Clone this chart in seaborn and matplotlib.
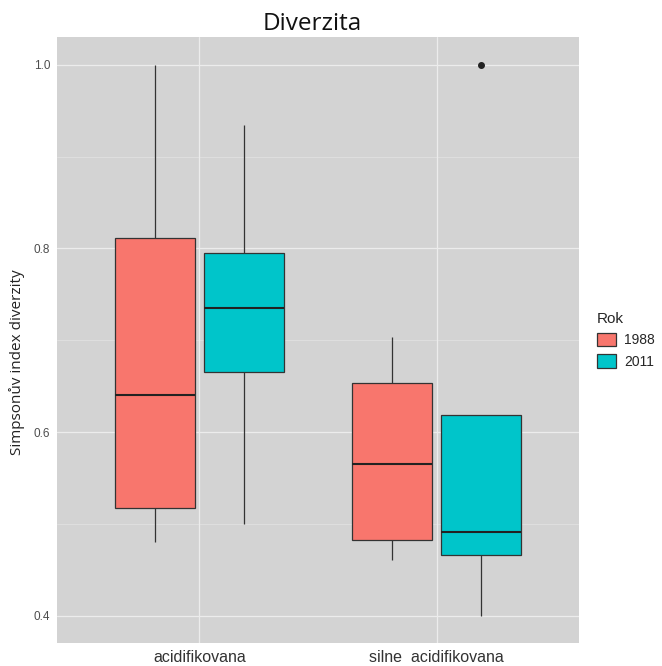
import pandas as pd
import matplotlib
matplotlib.use("Agg")
import matplotlib.pyplot as plt
import seaborn as sns
from matplotlib.patches import Patch

# box data (5 values per group -> min, Q1, median, Q3, max)
acid_1988 = [0.480, 0.517, 0.640, 0.811, 1.000]
acid_2011 = [0.500, 0.665, 0.735, 0.795, 0.935]
silne_1988 = [0.461, 0.483, 0.565, 0.653, 0.704]
silne_2011 = [0.400, 0.466, 0.491, 0.619, 1.000]

kategorie = ["acidifikovana", "silne  acidifikovana"]
roky = ["1988", "2011"]
barvy = ["#F8766D", "#00C5CA"]

rows = []
for kat, rok, vals in [(kategorie[0], roky[0], acid_1988), (kategorie[0], roky[1], acid_2011),
                       (kategorie[1], roky[0], silne_1988), (kategorie[1], roky[1], silne_2011)]:
    for v in vals:
        rows.append({"Kategorie": kat, "Rok": rok, "Simpson": v})
df = pd.DataFrame(rows)

sns.set_style("white")
plt.rcParams['font.family'] = ['Liberation Sans', 'DejaVu Sans']

fig, ax = plt.subplots(figsize=(6.62, 6.66), dpi=100)
fig.subplots_adjust(left=57/662, right=579/662, top=1-37.3/666, bottom=1-643.3/666)
ax.set_facecolor("#D3D3D3")

# grid (ggplot-ish)
for y in [0.4, 0.6, 0.8, 1.0]:
    ax.axhline(y, color="#ECECEC", lw=0.9, zorder=0)
for y in [0.5, 0.7, 0.9]:
    ax.axhline(y, color="#E6E6E6", lw=0.45, zorder=0)
for x in [0, 1]:
    ax.axvline(x, color="#ECECEC", lw=0.9, zorder=0)

sns.boxplot(data=df, x="Kategorie", y="Simpson", hue="Rok", order=kategorie, hue_order=roky,
            palette=barvy, saturation=1, width=0.75, gap=0.1, whis=1.5,
            linewidth=0.9, linecolor="#333333",
            medianprops=dict(color="#222222", linewidth=1.5),
            whiskerprops=dict(color="#333333", linewidth=0.9),
            capprops=dict(linewidth=0),
            flierprops=dict(marker="o", markersize=4, markerfacecolor="#222222",
                            markeredgecolor="#222222"),
            legend=False, ax=ax)

ax.set_xlim(-0.6, 1.6)
ax.set_ylim(0.370, 1.030)
ax.set_yticks([0.4, 0.6, 0.8, 1.0])
ax.set_yticklabels(["0.4", "0.6", "0.8", "1.0"])
ax.tick_params(axis="y", length=3, width=0.8, color="#333333", labelsize=8.5, labelcolor="#4D4D4D", pad=2)
ax.tick_params(axis="x", length=0, labelsize=11.5, labelcolor="#333333", pad=5)
for s in ax.spines.values():
    s.set_visible(False)

ax.set_xlabel("")
ax.set_ylabel("Simpsonův index diverzity", fontsize=11, family=['Open Sans', 'DejaVu Sans'],
              color="#222222")
ax.yaxis.set_label_coords(-0.062, 0.464)
ax.set_title("Diverzita", fontsize=17.5, family=['Open Sans', 'DejaVu Sans'], color="#111111",
             pad=5, x=0.489)

handles = [Patch(facecolor=barvy[i], edgecolor="#333333", linewidth=0.9, label=roky[i]) for i in range(2)]
leg = ax.legend(handles=handles, title="Rok", loc="center left", bbox_to_anchor=(1.01, 0.5),
                frameon=False, fontsize=10, title_fontsize=11, handlelength=1.4, handleheight=1.1,
                labelspacing=0.5, handletextpad=0.6)
leg._legend_box.align = "left"

fig.savefig("out.png", dpi=100)
